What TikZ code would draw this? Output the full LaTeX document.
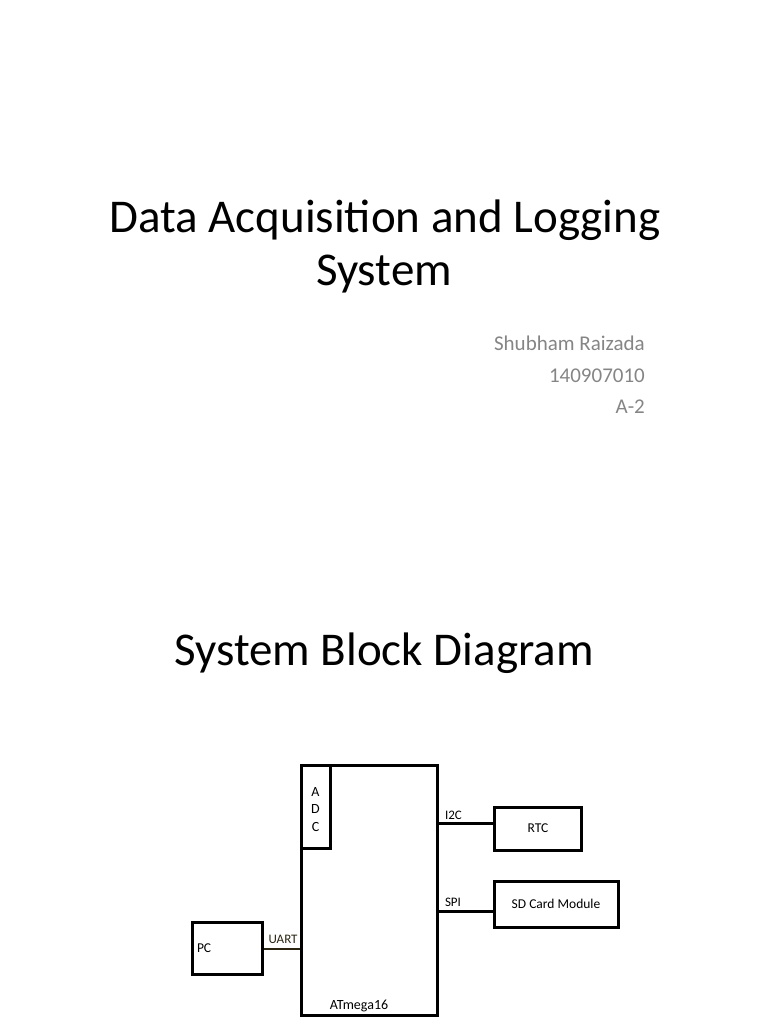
\documentclass[tikz,border=0pt]{standalone}
\usepackage{fontspec}
\setmainfont{Carlito}
\usetikzlibrary{positioning,calc}
\definecolor{subgray}{HTML}{858585}
\definecolor{uartwire}{HTML}{2A2410}

\tikzset{
  blockbox/.style={draw=black, line width=3pt, inner sep=0pt, font=\fontsize{13.5}{16}\selectfont},
  wire/.style={draw=black, line width=3pt},
  pinlabel/.style={font=\fontsize{13}{15}\selectfont, inner sep=0pt},
  slidetitle/.style={font=\fontsize{47}{56}\selectfont, anchor=base},
  subline/.style={font=\fontsize{21}{25}\selectfont, text=subgray, anchor=base east, inner sep=0pt},
}

\begin{document}
\begin{tikzpicture}[x=1pt, y=-1pt]
      \useasboundingbox (0,0) rectangle (768,1024);

      % Title slide
      \node[slidetitle] (title1) at (385,233) {Data Acquisition and Logging};
      \node[slidetitle] (title2) at (384,285) {System};
      \node[subline] (author) at (645,350) {Shubham Raizada};
      \node[subline] (roll) at (645,382) {140907010};
      \node[subline] (batch) at (645,413) {A-2};

      % Block diagram slide
      \node[slidetitle] (title3) at (384,665) {System Block Diagram};

      % Microcontroller
      \node[blockbox, minimum width=136pt, minimum height=250pt] (mcu) at (369,890) {};
      \node[font=\fontsize{14}{16}\selectfont, anchor=base] (mcuname) at (359,1009) {ATmega16};
      \node[blockbox, minimum width=29pt, minimum height=83pt, anchor=north west] (adc) at (mcu.north west) {};
      \node[font=\fontsize{14}{17.5}\selectfont, align=center, inner sep=0pt] (adctext) at ([yshift=-3pt]adc.center) {A\\D\\C};

      % Peripherals
      \node[blockbox, minimum width=87pt, minimum height=43pt] (rtc) at (538,828.5) {RTC};
      \node[blockbox, minimum width=124pt, minimum height=46pt] (sdcard) at (556,904) {SD Card Module};
      \node[blockbox, minimum width=70pt, minimum height=52pt,
            text width=60pt, align=left] (pc) at (227,948.5) {PC};

      % Buses
      \draw[wire] ([yshift=5.5]rtc.west) -- ([yshift=5.5]rtc.west -| mcu.east)
        node[pinlabel, anchor=base west, xshift=5pt, yshift=4pt] (i2c) {I2C};
      \draw[wire] ([yshift=-7]sdcard.west) -- ([yshift=-7]sdcard.west -| mcu.east)
        node[pinlabel, anchor=base west, xshift=5pt, yshift=5pt] (spi) {SPI};
      \draw[uartwire, line width=2pt] (pc.east) -- (pc.east -| mcu.west)
        node[pinlabel, anchor=base east, xshift=-1pt, yshift=5pt] (uart) {UART};
    \end{tikzpicture}
\end{document}
